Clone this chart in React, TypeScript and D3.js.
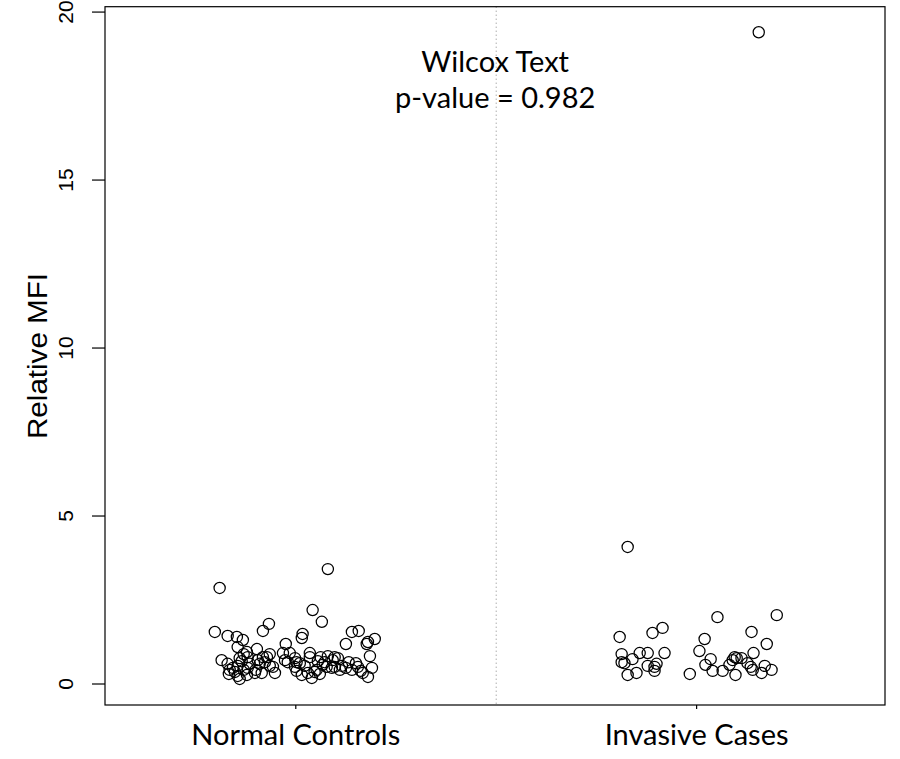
import React from "react";
import * as d3 from "d3";

const categories = ["Normal Controls", "Invasive Cases"];
const yTicks = [0, 5, 10, 15, 20];
const titleLines = ["Wilcox Text", "p-value = 0.982"];
const yLabel = "Relative MFI";

// [jitter offset (category units), Relative MFI]
const normalControls: [number, number][] = [
  [-0.19, 2.86], [0.08, 3.42], [0.042, 2.2], [0.065, 1.85], [-0.202, 1.55], [-0.17, 1.43],
  [-0.147, 1.4], [-0.132, 1.31], [-0.082, 1.58], [-0.067, 1.79], [0.017, 1.49], [0.015, 1.37],
  [0.14, 1.55], [0.157, 1.58], [0.125, 1.19], [0.197, 1.34], [0.18, 1.25], [0.177, 1.19],
  [-0.025, 1.19], [-0.145, 1.1], [-0.097, 1.04], [-0.122, 0.95], [-0.13, 0.89], [-0.065, 0.89],
  [-0.032, 0.92], [-0.015, 0.92], [0.035, 0.92], [0.185, 0.83], [-0.185, 0.71], [-0.17, 0.6],
  [-0.14, 0.77], [-0.12, 0.8], [-0.082, 0.8], [-0.072, 0.8], [-0.002, 0.77], [0.002, 0.65],
  [0.035, 0.8], [0.062, 0.8], [0.08, 0.83], [0.097, 0.8], [0.105, 0.77], [0.132, 0.65],
  [-0.02, 0.65], [-0.157, 0.48], [-0.145, 0.54], [-0.152, 0.36], [-0.145, 0.24], [-0.122, 0.27],
  [-0.1, 0.42], [-0.09, 0.6], [-0.077, 0.65], [-0.065, 0.54], [-0.057, 0.51], [-0.052, 0.33],
  [-0.085, 0.33], [-0.102, 0.33], [-0.002, 0.51], [0.022, 0.54], [0.002, 0.39], [0.03, 0.33],
  [0.04, 0.18], [0.047, 0.36], [0.052, 0.42], [0.067, 0.57], [0.077, 0.51], [0.09, 0.48],
  [0.097, 0.51], [0.115, 0.54], [0.125, 0.48], [0.155, 0.51], [0.162, 0.39], [0.167, 0.33],
  [0.18, 0.21], [0.19, 0.48], [-0.135, 0.68], [-0.115, 0.6], [-0.13, 0.42], [-0.14, 0.15],
  [-0.165, 0.42], [-0.095, 0.71], [-0.027, 0.71], [0.01, 0.62], [0.055, 0.68], [0.072, 0.65],
  [0.092, 0.71], [0.14, 0.42], [0.015, 0.27], [0.06, 0.3], [0.15, 0.62], [-0.12, 0.48],
  [-0.167, 0.3], [0.11, 0.42],
];

const invasiveCases: [number, number][] = [
  [0.155, 19.4], [-0.172, 4.08], [0.052, 1.99], [0.2, 2.05], [-0.192, 1.4], [-0.11, 1.52],
  [-0.085, 1.67], [0.02, 1.34], [0.137, 1.55], [0.175, 1.19], [0.007, 0.98], [-0.187, 0.89],
  [-0.187, 0.65], [-0.18, 0.62], [-0.16, 0.74], [-0.142, 0.92], [-0.122, 0.92], [-0.08, 0.92],
  [-0.122, 0.54], [-0.105, 0.51], [-0.1, 0.6], [-0.105, 0.39], [-0.172, 0.27], [-0.15, 0.33],
  [-0.017, 0.3], [0.022, 0.57], [0.035, 0.74], [0.04, 0.39], [0.065, 0.39], [0.082, 0.57],
  [0.09, 0.71], [0.095, 0.8], [0.1, 0.77], [0.112, 0.77], [0.097, 0.27], [0.127, 0.62],
  [0.135, 0.51], [0.14, 0.42], [0.142, 0.92], [0.162, 0.33], [0.17, 0.54], [0.187, 0.42],
];

const seriesList = [normalControls, invasiveCases];

const W = 900;
const H = 759;
const box = { left: 105, right: 885, top: 6.7, bottom: 705 };

const x = d3.scaleLinear().domain([0.524, 2.47]).range([box.left, box.right]);
const y = d3.scaleLinear().domain([-0.625, 20.16]).range([box.bottom, box.top]);

const humanist = "'Lato', 'Open Sans', sans-serif";
const helv = "'Liberation Sans', Arial, sans-serif";

export default function App() {
  const mid = x(1.5);
  return (
    <svg
      width={W}
      height={H}
      style={{ position: "absolute", left: 0, top: 0, background: "#fff" }}
    >
      <rect x={0} y={0} width={W} height={H} fill="#fff" />
      {/* dotted separator */}
      <line
        x1={mid}
        x2={mid}
        y1={box.top}
        y2={box.bottom}
        stroke="#888"
        strokeWidth={1}
        strokeDasharray="1,3"
      />
      {/* points */}
      {seriesList.map((s, si) =>
        s.map(([j, v], i) => (
          <circle
            key={`${si}-${i}`}
            cx={x(si + 1 + j)}
            cy={y(v)}
            r={5.6}
            fill="none"
            stroke="#000"
            strokeWidth={1.25}
          />
        ))
      )}
      {/* box */}
      <rect
        x={box.left}
        y={box.top}
        width={box.right - box.left}
        height={box.bottom - box.top}
        fill="none"
        stroke="#000"
        strokeWidth={1.2}
      />
      {/* y axis ticks */}
      {yTicks.map((t) => (
        <g key={t}>
          <line x1={box.left - 13} x2={box.left} y1={y(t)} y2={y(t)} stroke="#000" strokeWidth={1.2} />
          <text
            transform={`translate(73,${y(t)}) rotate(-90)`}
            textAnchor="middle"
            fontFamily={helv}
            fontSize={21}
            fill="#000"
          >
            {t}
          </text>
        </g>
      ))}
      {/* x ticks and labels */}
      {categories.map((c, i) => (
        <g key={c}>
          <line x1={x(i + 1)} x2={x(i + 1)} y1={box.bottom} y2={box.bottom + 4} stroke="#000" strokeWidth={1.2} />
          <text x={x(i + 1)} y={745} textAnchor="middle" fontFamily={humanist} fontSize={29} fill="#000">
            {c}
          </text>
        </g>
      ))}
      {/* y label */}
      <text
        transform={`translate(47,356) rotate(-90)`}
        textAnchor="middle"
        fontFamily={helv}
        fontSize={27}
        textLength={166}
        lengthAdjust="spacingAndGlyphs"
        fill="#000"
      >
        {yLabel}
      </text>
      {/* annotation */}
      {titleLines.map((l, i) => (
        <text
          key={l}
          x={mid - 1}
          y={72 + i * 36}
          textAnchor="middle"
          fontFamily={humanist}
          fontSize={29}
          fill="#000"
        >
          {l}
        </text>
      ))}
    </svg>
  );
}
